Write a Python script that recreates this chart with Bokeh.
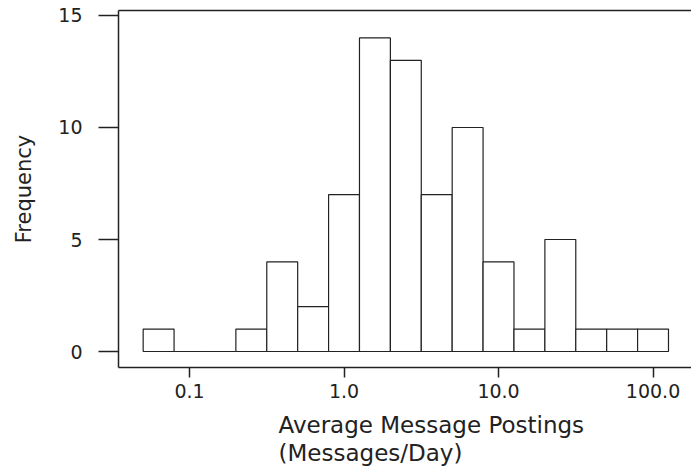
from bokeh.plotting import figure
from bokeh.models import (Range1d, FixedTicker, PrintfTickFormatter, LogAxis, Title)
from bokeh.embed import file_html
from bokeh.resources import INLINE

# ---- data (log10 bin edges of message postings/day, counts) ----
bin_edges_log10 = [-1.3, -1.1, -0.9, -0.7, -0.5, -0.3, -0.1, 0.1, 0.3, 0.5,
                   0.7, 0.9, 1.1, 1.3, 1.5, 1.7, 1.9, 2.1]
frequencies = [1, 0, 0, 1, 4, 2, 7, 14, 13, 7, 10, 4, 1, 5, 1, 1, 1]
x_ticks = [0.1, 1.0, 10.0, 100.0]
y_ticks = [0, 5, 10, 15]
x_label_lines = ["Average Message Postings", "(Messages/Day)"]
y_label = "Frequency"

lefts = [10 ** e for e in bin_edges_log10[:-1]]
rights = [10 ** e for e in bin_edges_log10[1:]]

FONT = "DejaVu Sans"
INK = "#222222"

p = figure(width=691, height=474, x_axis_type="log",
           x_range=Range1d(0.0347, 177.4), y_range=Range1d(-0.714, 15.223),
           output_backend="svg", toolbar_location=None,
           min_border_left=118, min_border_right=0, min_border_top=10,
           min_border_bottom=107)
p.outline_line_color = None
p.grid.visible = False
p.background_fill_color = "white"

p.quad(left=lefts, right=rights, bottom=0, top=frequencies,
       fill_color="white", line_color=INK, line_width=1.2)

# x axis
xa = p.xaxis[0]
xa.ticker = FixedTicker(ticks=x_ticks)
xa.formatter = PrintfTickFormatter(format="%.1f")
xa.minor_tick_line_color = None
xa.major_tick_in = 0
xa.major_tick_out = 10
xa.major_tick_line_color = INK
xa.major_tick_line_width = 1.5
xa.axis_line_color = INK
xa.axis_line_width = 1.5
xa.major_label_text_font = FONT
xa.major_label_text_font_size = "19px"
xa.major_label_text_color = INK
xa.major_label_standoff = 6

# y axis
ya = p.yaxis[0]
ya.ticker = FixedTicker(ticks=y_ticks)
ya.minor_tick_line_color = None
ya.major_tick_in = 0
ya.major_tick_out = 20
ya.major_tick_line_color = INK
ya.major_tick_line_width = 1.5
ya.axis_line_color = INK
ya.axis_line_width = 1.5
ya.major_label_text_font = FONT
ya.major_label_text_font_size = "19px"
ya.major_label_text_color = INK
ya.major_label_standoff = 16
ya.axis_label = y_label
ya.axis_label_text_font = FONT
ya.axis_label_text_font_size = "21px"
ya.axis_label_text_font_style = "normal"
ya.axis_label_text_color = INK
ya.axis_label_standoff = 19

# top frame line
top_axis = LogAxis(ticker=FixedTicker(ticks=[]), major_tick_out=0, major_tick_in=0,
                   minor_tick_line_color=None, major_label_text_font_size="0px",
                   major_label_standoff=0, axis_line_color=INK, axis_line_width=1.5)
p.add_layout(top_axis, "above")

# small spacer between tick labels and the x-axis label
p.add_layout(Title(text=" ", text_font_size="1px", standoff=6), "below")

# x axis label (two left-aligned lines)
for line in x_label_lines:
    t = Title(text=line, align="left", offset=160, text_font=FONT,
              text_font_size="23px", text_font_style="normal",
              text_color=INK, standoff=0)
    p.add_layout(t, "below")

open("out.html", "w").write(file_html(p, INLINE))
